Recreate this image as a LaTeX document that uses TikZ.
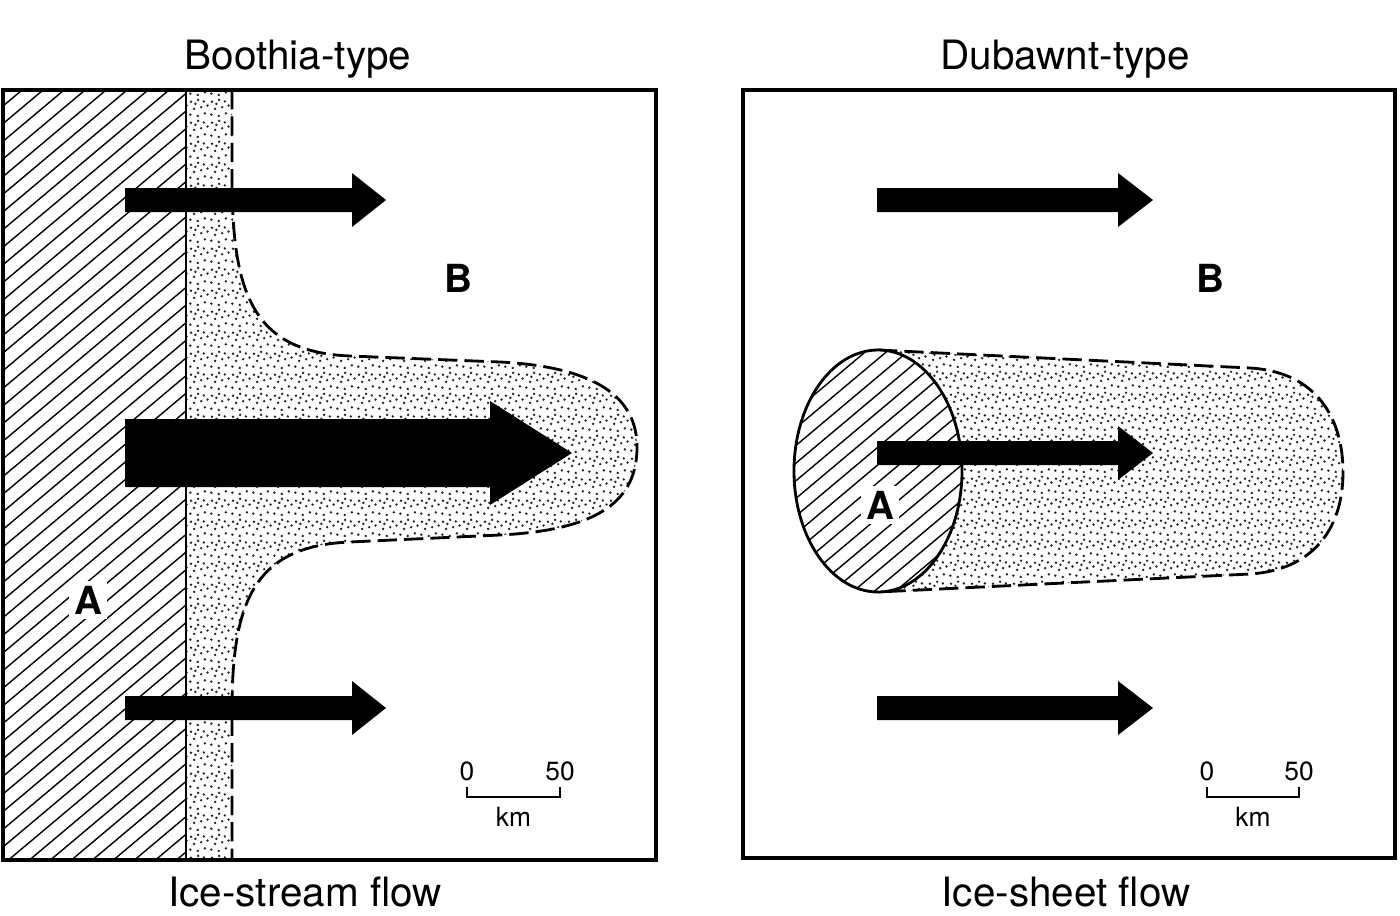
\documentclass[tikz,border=0pt]{standalone}
\usepackage{fontspec}
\setmainfont{TeX Gyre Heros}
\usetikzlibrary{patterns.meta}

% irregular dot tile for the stippled zones
\pgfdeclarepattern{
  name=stipple, type=uncolored,
  bottom left={\pgfpoint{0pt}{0pt}}, top right={\pgfpoint{6pt}{6pt}},
  tile size={\pgfpoint{6pt}{6pt}},
  code={
    \pgfpathcircle{\pgfpoint{0.4pt}{0.7pt}}{0.4pt}
    \pgfpathcircle{\pgfpoint{2.6pt}{0.3pt}}{0.4pt}
    \pgfpathcircle{\pgfpoint{4.7pt}{1.1pt}}{0.4pt}
    \pgfpathcircle{\pgfpoint{1.5pt}{2.4pt}}{0.4pt}
    \pgfpathcircle{\pgfpoint{3.6pt}{2.9pt}}{0.4pt}
    \pgfpathcircle{\pgfpoint{5.5pt}{3.4pt}}{0.4pt}
    \pgfpathcircle{\pgfpoint{0.6pt}{4.5pt}}{0.4pt}
    \pgfpathcircle{\pgfpoint{2.7pt}{5.1pt}}{0.4pt}
    \pgfpathcircle{\pgfpoint{4.4pt}{4.6pt}}{0.4pt}
    \pgfpathcircle{\pgfpoint{1.9pt}{3.9pt}}{0.4pt}
    \pgfusepath{fill}
  }
}

\tikzset{
  frame/.style={line width=0.9pt},
  hatch/.style={line width=0.4pt},
  edge/.style={line width=0.8pt, dash pattern=on 5.5pt off 2pt},
  stip/.style={pattern=stipple, pattern color=black!85},
  heading/.style={font=\fontsize{11.5}{13}\selectfont, anchor=base},
  zone/.style={font=\fontsize{11}{13}\selectfont\bfseries, fill=white, inner sep=1.5pt},
  scaletext/.style={font=\fontsize{7.5}{9}\selectfont}
}

% hatch lines, to be used inside a clip
\newcommand{\hatchlines}[2]{
  \foreach \s in {#1,...,#2}
    \draw[hatch] (21*\s,920) -- ++(1000,-840);
}
% flow arrow: start x, head base x, tip x, centre y, half shaft, half head
\newcommand{\flowarrow}[6]{
  \fill (#1,#4-#5) -- (#2,#4-#5) -- (#2,#4-#6) -- (#3,#4)
     -- (#2,#4+#6) -- (#2,#4+#5) -- (#1,#4+#5) -- cycle;
}
% scale bar with its labels
\newcommand{\scalebar}[3]{
  \draw[line width=0.7pt] (#1,#3-10) -- (#1,#3) -- (#2,#3) -- (#2,#3-10);
  \node[scaletext, anchor=base] (#1zero) at (#1,#3-17) {0};
  \node[scaletext, anchor=base] (#1fifty) at (#2,#3-17) {50};
  \node[scaletext, anchor=base] (#1km) at ({(#1+#2)/2},#3+29) {km};
}

\begin{document}
\begin{tikzpicture}[x=0.01cm, y=-0.01cm]
  \useasboundingbox (0,0) rectangle (1400,915);

  % ---------- Boothia-type ----------
  \begin{scope}
    \clip (3,90) rectangle (186,860);
    \hatchlines{-48}{10}
  \end{scope}
  \fill[stip] (186,90) -- (232,90) -- (232,175)
    .. controls (232,290) and (250,352) .. (350,356) -- (500,362)
    .. controls (600,367) and (637,400) .. (637,447)
    .. controls (637,500) and (600,530) .. (500,535) -- (350,542)
    .. controls (255,546) and (232,600) .. (232,710)
    -- (232,860) -- (186,860) -- cycle;
  \draw[edge] (232,90) -- (232,175)
    .. controls (232,290) and (250,352) .. (350,356) -- (500,362)
    .. controls (600,367) and (637,400) .. (637,447)
    .. controls (637,500) and (600,530) .. (500,535) -- (350,542)
    .. controls (255,546) and (232,600) .. (232,710)
    -- (232,860);
  \draw[line width=0.7pt] (186,90) -- (186,860);
  \draw[frame] (3,90) rectangle (656,860);

  \flowarrow{125}{352}{386}{200}{12}{27}
  \flowarrow{125}{490}{572}{453}{34}{52}
  \flowarrow{125}{352}{386}{708}{12}{27}

  \node[zone] (leftB) at (458,278) {B};
  \node[zone] (leftA) at (88,600) {A};
  \scalebar{467}{560}{797}
  \node[heading] (lefttitle) at (298,70) {Boothia-type};
  \node[heading] (leftcaption) at (305,906) {Ice-stream flow};

  % ---------- Dubawnt-type ----------
  \fill[stip] (878,470) -- (878,350) -- (1250,368)
    .. controls (1318,372) and (1343,420) .. (1343,472)
    .. controls (1343,530) and (1312,570) .. (1250,574)
    -- (878,592) -- cycle;
  \draw[edge] (878,350) -- (1250,368)
    .. controls (1318,372) and (1343,420) .. (1343,472)
    .. controls (1343,530) and (1312,570) .. (1250,574)
    -- (878,592);
  \fill[white] (878,471) ellipse [x radius=84, y radius=121];
  \begin{scope}
    \clip (878,471) ellipse [x radius=84, y radius=121];
    \hatchlines{-10}{48}
  \end{scope}
  \draw[line width=0.8pt] (878,471) ellipse [x radius=84, y radius=121];
  \draw[frame] (743,90) rectangle (1395,858);

  \flowarrow{877}{1118}{1153}{200}{12}{27}
  \flowarrow{877}{1118}{1153}{453}{12}{27}
  \flowarrow{877}{1118}{1153}{708}{12}{27}

  \node[zone] (rightB) at (1210,278) {B};
  \node[zone] (rightA) at (880,505) {A};
  \scalebar{1207}{1299}{797}
  \node[heading] (righttitle) at (1065,70) {Dubawnt-type};
  \node[heading] (rightcaption) at (1066,906) {Ice-sheet flow};
\end{tikzpicture}
\end{document}
